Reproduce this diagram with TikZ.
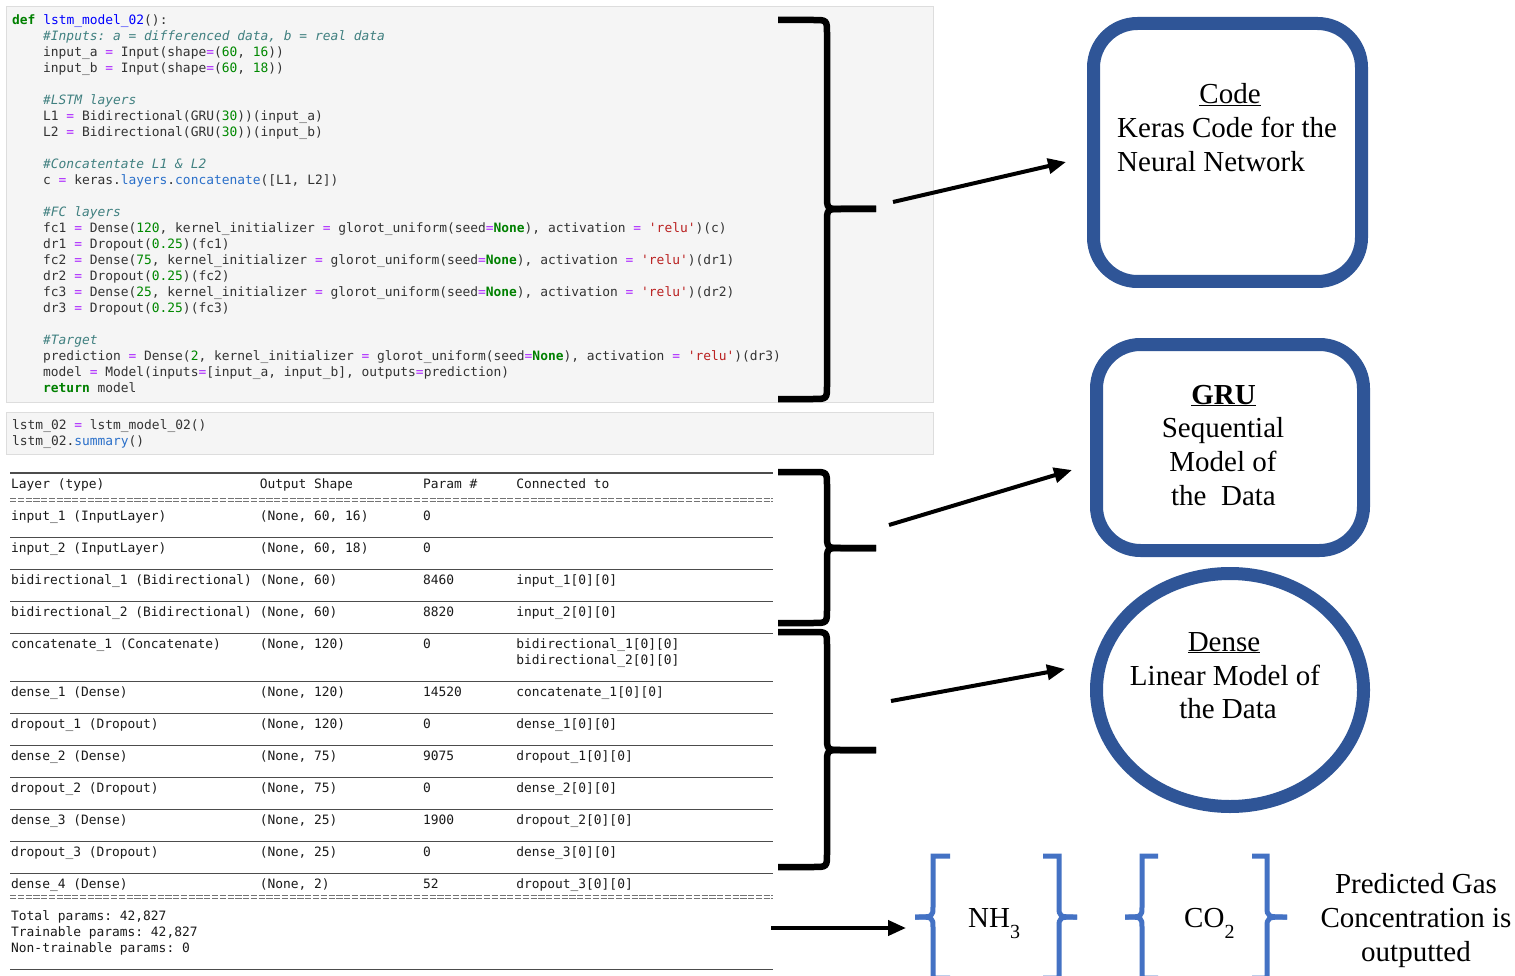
\documentclass[tikz,border=0pt]{standalone}
\usepackage{fontspec}
\setmainfont{Liberation Serif}
\setmonofont{DejaVu Sans Mono}
\usetikzlibrary{arrows.meta,shapes.geometric}
\definecolor{cellbg}{HTML}{F5F5F5}
\definecolor{cellbd}{HTML}{DDDDDD}
\definecolor{kwc}{HTML}{008000}
\definecolor{defc}{HTML}{0000FF}
\definecolor{eqc}{HTML}{AA22FF}
\definecolor{numc}{HTML}{008800}
\definecolor{comc}{HTML}{408080}
\definecolor{strc}{HTML}{BA2121}
\definecolor{propc}{HTML}{2A6FC9}
\definecolor{codec}{HTML}{333333}
\definecolor{tabc}{HTML}{1A1A1A}
\definecolor{boxblue}{HTML}{2F5597}
\definecolor{brblue}{HTML}{4472C4}
\newcommand\Ckw[1]{\textcolor{kwc}{\bfseries #1}}
\newcommand\Cdef[1]{\textcolor{defc}{#1}}
\newcommand\Ceq{\textcolor{eqc}{=}}
\newcommand\Cnum[1]{\textcolor{numc}{#1}}
\newcommand\Ccom[1]{\textcolor{comc}{\itshape #1}}
\newcommand\Cstr[1]{\textcolor{strc}{#1}}
\newcommand\Cprop[1]{\textcolor{propc}{#1}}
\newcommand\CL[3]{\node[codetxt] (cl#1) at (#2,{24.5+16*#1}) {#3};}
\newcommand\TA[3]{\node[tabtxt] (t#1#2) at (\csname col#2\endcsname,{#1+4.5}) {#3};}
\def\colA{11}\def\colB{259.6}\def\colC{422.8}\def\colD{516.1}
\newcommand\TRule[1]{\draw[rulel] (10,#1) -- (773,#1);}
\newcommand\DRule[1]{\draw[dblrule] (10,#1) -- (773,#1); \draw[dblrule] (10,{#1+3.5}) -- (773,{#1+3.5});}
\newcommand\BBrace[3]{%
 \draw[bbrace] (778,#1) -- (813,#1) .. controls (827,#1) .. (827,{#1+14}) -- (827,{#2-14}) .. controls (827,#2) .. (841,#2) -- (876,#2);
 \draw[bbrace] (778,#3) -- (813,#3) .. controls (827,#3) .. (827,{#3-14}) -- (827,{#2+14}) .. controls (827,#2) .. (841,#2) -- (876,#2);}
\newcommand\BlBr[3]{% vertical x, hook end x, tip x
 \draw[bluebr] (#2,856) -- (#1,856) -- (#1,906) .. controls (#1,917) .. (#3,917);
 \draw[bluebr] (#2,978) -- (#1,978) -- (#1,928) .. controls (#1,917) .. (#3,917);}
\tikzset{
 codetxt/.style={anchor=base west, inner sep=0pt, font=\ttfamily\fontsize{12.9}{16}\selectfont, text=codec},
 tabtxt/.style={codetxt, text=tabc},
 serif/.style={anchor=base, inner sep=0pt, font=\fontsize{29}{34}\selectfont},
 serifw/.style={serif, anchor=base west},
 cell/.style={fill=cellbg, draw=cellbd, line width=1pt},
 rulel/.style={draw=black!70, line width=1.2pt},
 dblrule/.style={draw=black!55, line width=0.9pt, dash pattern=on 6.2pt off 1.57pt},
 bbrace/.style={line width=6.5pt, draw=black},
 bluebr/.style={line width=5pt, draw=brblue},
 arr/.style={line width=4pt, draw=black, -{Triangle[length=18pt,width=15pt]}},
 bluebox/.style={draw=boxblue, line width=13pt, rounded corners=44pt, inner sep=0pt},
}
\begin{document}
\begin{tikzpicture}[x=1pt,y=-1pt]
\useasboundingbox (0,0) rectangle (1515,976);
\fill[white] (0,0) rectangle (1515,976);
% code cells
\draw[cell] (6,7) rectangle (933,402);
\draw[cell] (6,412) rectangle (933,454);
\CL{0}{12}{\Ckw{def} \Cdef{lstm\_model\_02}():}
\CL{1}{43}{\Ccom{\#Inputs: a = differenced data, b = real data}}
\CL{2}{43}{input\_a \Ceq{} Input(shape\Ceq{}(\Cnum{60}, \Cnum{16}))}
\CL{3}{43}{input\_b \Ceq{} Input(shape\Ceq{}(\Cnum{60}, \Cnum{18}))}
\CL{5}{43}{\Ccom{\#LSTM layers}}
\CL{6}{43}{L1 \Ceq{} Bidirectional(GRU(\Cnum{30}))(input\_a)}
\CL{7}{43}{L2 \Ceq{} Bidirectional(GRU(\Cnum{30}))(input\_b)}
\CL{9}{43}{\Ccom{\#Concatentate L1 \& L2}}
\CL{10}{43}{c \Ceq{} keras.\Cprop{layers}.\Cprop{concatenate}([L1, L2])}
\CL{12}{43}{\Ccom{\#FC layers}}
\CL{13}{43}{fc1 \Ceq{} Dense(\Cnum{120}, kernel\_initializer \Ceq{} glorot\_uniform(seed\Ceq{}\Ckw{None}), activation \Ceq{} \Cstr{'relu'})(c)}
\CL{14}{43}{dr1 \Ceq{} Dropout(\Cnum{0.25})(fc1)}
\CL{15}{43}{fc2 \Ceq{} Dense(\Cnum{75}, kernel\_initializer \Ceq{} glorot\_uniform(seed\Ceq{}\Ckw{None}), activation \Ceq{} \Cstr{'relu'})(dr1)}
\CL{16}{43}{dr2 \Ceq{} Dropout(\Cnum{0.25})(fc2)}
\CL{17}{43}{fc3 \Ceq{} Dense(\Cnum{25}, kernel\_initializer \Ceq{} glorot\_uniform(seed\Ceq{}\Ckw{None}), activation \Ceq{} \Cstr{'relu'})(dr2)}
\CL{18}{43}{dr3 \Ceq{} Dropout(\Cnum{0.25})(fc3)}
\CL{20}{43}{\Ccom{\#Target}}
\CL{21}{43}{prediction \Ceq{} Dense(\Cnum{2}, kernel\_initializer \Ceq{} glorot\_uniform(seed\Ceq{}\Ckw{None}), activation \Ceq{} \Cstr{'relu'})(dr3)}
\CL{22}{43}{model \Ceq{} Model(inputs\Ceq{}[input\_a, input\_b], outputs\Ceq{}prediction)}
\CL{23}{43}{\Ckw{return} model}
\node[codetxt] (call1) at (12,429.5) {lstm\_02 \Ceq{} lstm\_model\_02()};
\node[codetxt] (call2) at (12,445.5) {lstm\_02.\Cprop{summary}()};
% summary table
\TRule{473}
\TA{484}{A}{Layer (type)}\TA{484}{B}{Output Shape}\TA{484}{C}{Param \#}\TA{484}{D}{Connected to}
\DRule{498}
\TA{516}{A}{input\_1 (InputLayer)}\TA{516}{B}{(None, 60, 16)}\TA{516}{C}{0}
\TRule{537.5}
\TA{548}{A}{input\_2 (InputLayer)}\TA{548}{B}{(None, 60, 18)}\TA{548}{C}{0}
\TRule{569.5}
\TA{580}{A}{bidirectional\_1 (Bidirectional)}\TA{580}{B}{(None, 60)}\TA{580}{C}{8460}\TA{580}{D}{input\_1[0][0]}
\TRule{601.5}
\TA{612}{A}{bidirectional\_2 (Bidirectional)}\TA{612}{B}{(None, 60)}\TA{612}{C}{8820}\TA{612}{D}{input\_2[0][0]}
\TRule{633.5}
\TA{644}{A}{concatenate\_1 (Concatenate)}\TA{644}{B}{(None, 120)}\TA{644}{C}{0}\TA{644}{D}{bidirectional\_1[0][0]}
\TA{660}{D}{bidirectional\_2[0][0]}
\TRule{681.5}
\TA{692}{A}{dense\_1 (Dense)}\TA{692}{B}{(None, 120)}\TA{692}{C}{14520}\TA{692}{D}{concatenate\_1[0][0]}
\TRule{713.5}
\TA{724}{A}{dropout\_1 (Dropout)}\TA{724}{B}{(None, 120)}\TA{724}{C}{0}\TA{724}{D}{dense\_1[0][0]}
\TRule{745.5}
\TA{756}{A}{dense\_2 (Dense)}\TA{756}{B}{(None, 75)}\TA{756}{C}{9075}\TA{756}{D}{dropout\_1[0][0]}
\TRule{777.5}
\TA{788}{A}{dropout\_2 (Dropout)}\TA{788}{B}{(None, 75)}\TA{788}{C}{0}\TA{788}{D}{dense\_2[0][0]}
\TRule{809.5}
\TA{820}{A}{dense\_3 (Dense)}\TA{820}{B}{(None, 25)}\TA{820}{C}{1900}\TA{820}{D}{dropout\_2[0][0]}
\TRule{841.5}
\TA{852}{A}{dropout\_3 (Dropout)}\TA{852}{B}{(None, 25)}\TA{852}{C}{0}\TA{852}{D}{dense\_3[0][0]}
\TRule{873.5}
\TA{884}{A}{dense\_4 (Dense)}\TA{884}{B}{(None, 2)}\TA{884}{C}{52}\TA{884}{D}{dropout\_3[0][0]}
\DRule{895}
\TA{916}{A}{Total params: 42,827}
\TA{932}{A}{Trainable params: 42,827}
\TA{948}{A}{Non-trainable params: 0}
\TRule{969.5}
% black braces
\BBrace{20}{209}{399}
\BBrace{472}{548}{623}
\BBrace{632}{750}{867}
% right-hand shapes
\node[bluebox, minimum width=268pt, minimum height=258pt] (codebox) at (1227.5,152.5) {};
\node[bluebox, minimum width=267pt, minimum height=206pt] (grubox) at (1230,447.5) {};
\node[draw=boxblue, line width=13pt, ellipse, inner sep=0pt, minimum width=267pt, minimum height=233pt] (densecirc) at (1230,690) {};
\node[serif] (codet1) at (1230,104) {\underline{Code}};
\node[serifw] (codet2) at (1117,138) {Keras Code for the};
\node[serifw] (codet3) at (1117,172) {Neural Network};
\node[serif] (grut1) at (1223.5,404) {\underline{\textbf{GRU}}};
\node[serif] (grut2) at (1223,437.5) {Sequential};
\node[serif] (grut3) at (1223,471.5) {Model of};
\node[serif] (grut4) at (1223.5,505.5) {the\ \ Data};
\node[serif] (dent1) at (1224,651) {\underline{Dense}};
\node[serif] (dent2) at (1225,685) {Linear Model of};
\node[serif] (dent3) at (1228,718.5) {the Data};
% arrows
\coordinate (a1s) at (893,202); \coordinate (a1e) at (1066,162);
\coordinate (a2s) at (889,525); \coordinate (a2e) at (1072,470);
\coordinate (a3s) at (891,701); \coordinate (a3e) at (1065,669);
\coordinate (a4s) at (771,928); \coordinate (a4e) at (906,928);
\draw[arr] (a1s) -- (a1e);
\draw[arr] (a2s) -- (a2e);
\draw[arr] (a3s) -- (a3e);
\draw[arr] (a4s) -- (a4e);
% output brackets
\BlBr{933}{950}{915}
\BlBr{1059}{1043}{1077}
\BlBr{1142}{1158}{1125}
\BlBr{1267}{1252}{1287}
\node[serifw] (nh3) at (968,927) {NH\raisebox{-11pt}{\fontsize{20}{20}\selectfont 3}};
\node[serifw] (co2) at (1184,927) {CO\raisebox{-11pt}{\fontsize{20}{20}\selectfont 2}};
\node[serif] (pred1) at (1416,893) {Predicted Gas};
\node[serif] (pred2) at (1416,927.5) {Concentration is};
\node[serif] (pred3) at (1416,961) {outputted};
\end{tikzpicture}
\end{document}
